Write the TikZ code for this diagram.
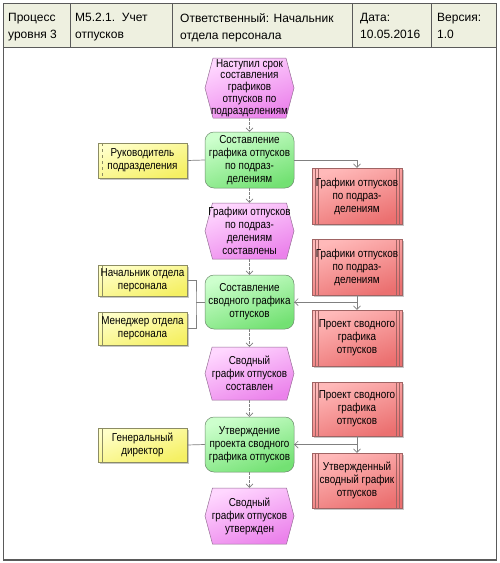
\documentclass[tikz,border=0pt]{standalone}
\usepackage{fontspec}
\setmainfont{Liberation Sans}
\newfontfamily\dfont[FakeStretch=0.86]{Liberation Sans}
\usetikzlibrary{shapes.symbols,arrows.meta,shadows,calc}
\definecolor{hdr}{RGB}{238,240,224}
\definecolor{framec}{RGB}{90,90,90}
\definecolor{connc}{RGB}{128,128,128}
\definecolor{evl}{RGB}{255,215,255}
\definecolor{evd}{RGB}{235,130,235}
\definecolor{evb}{RGB}{150,110,150}
\definecolor{fnl}{RGB}{205,255,205}
\definecolor{fnd}{RGB}{115,225,115}
\definecolor{fnb}{RGB}{110,140,110}
\definecolor{rol}{RGB}{255,255,200}
\definecolor{rod}{RGB}{245,240,100}
\definecolor{rob}{RGB}{140,140,100}
\definecolor{dcl}{RGB}{255,185,185}
\definecolor{dcd}{RGB}{235,112,112}
\definecolor{dcb}{RGB}{160,100,100}
\tikzset{
  hdrtxt/.style={anchor=north west, align=left, inner sep=0pt, font=\fontsize{12}{17}\selectfont},
  dfnt/.style={font=\dfont\fontsize{11.5}{13}\selectfont},
  dtxt/.style={align=center, inner sep=0pt, dfnt},
  shad/.style={drop shadow={shadow xshift=1.5pt, shadow yshift=-1.5pt, fill=black!22, opacity=1}},
  ev/.style={signal, signal to=east and west, signal pointer angle=150, inner sep=0pt,
    minimum width=89pt, draw=evb, line width=0.5pt, top color=evl, bottom color=evd, shading angle=20},
  fn/.style={rectangle, rounded corners=9pt, inner sep=0pt, minimum width=89pt,
    draw=fnb, line width=0.5pt, top color=fnl, bottom color=fnd, shading angle=20,
    align=center, dfnt},
  rolebox/.style={rectangle, inner sep=0pt, minimum width=89pt, draw=rob, line width=0.5pt,
    top color=rol, bottom color=rod, shading angle=20, shad,
    align=center, dfnt},
  rline/.style={path picture={\draw[rob, line width=0.5pt, #1]
    ([xshift=4.5pt]path picture bounding box.north west) -- ([xshift=4.5pt]path picture bounding box.south west);}},
  docbox/.style={rectangle, inner sep=0pt, minimum width=90pt, draw=dcb, line width=0.5pt,
    top color=dcl, bottom color=dcd, shading angle=20, shad,
    align=center, dfnt,
    path picture={\foreach \d in {3,6}{
      \draw[dcb, line width=0.5pt] ([xshift=\d pt]path picture bounding box.north west) -- ([xshift=\d pt]path picture bounding box.south west);
      \draw[dcb, line width=0.5pt] ([xshift=-\d pt]path picture bounding box.north east) -- ([xshift=-\d pt]path picture bounding box.south east);}}},
  conn/.style={draw=connc, line width=0.7pt},
  arr/.style={conn, -{Straight Barb[length=3.5pt, width=7pt]}},
  flow/.style={arr, dash pattern=on 2.5pt off 1.5pt}
}
\begin{document}
\begin{tikzpicture}[x=1pt,y=-1pt]
\useasboundingbox (0,0) rectangle (499,563);
\fill[white] (0,0) rectangle (499,563);
% header
\fill[hdr] (3,3) rectangle (496,47);
\draw[framec, line width=1pt] (3,3) rectangle (496,560);
\draw[framec, line width=1.8pt] (3,560) -- (496,560);
\draw[framec, line width=1pt] (3,47) -- (496,47);
\foreach \xx in {70,172,352,431} \draw[framec, line width=1pt] (\xx,3) -- (\xx,47);
\node[hdrtxt] (h1) at (8,13) {Процесс\\уровня 3};
\node[hdrtxt] (h2) at (75,13) {M5.2.1.\ \ Учет\\отпусков};
\node[hdrtxt] (h3) at (180,13) {Ответственный: Начальник\\отдела персонала};
\node[hdrtxt] (h4) at (360,13) {Дата:\\10.05.2016};
\node[hdrtxt] (h5) at (437,13) {Версия:\\1.0};
% events
\node[ev, minimum height=60pt] (e1) at (249.5,88) {};
\node[dtxt, font=\dfont\fontsize{11.5}{11.8}\selectfont] (t1) at (e1) {Наступил срок\\составления\\графиков\\отпусков по\\подразделениям};
\node[ev, minimum height=56pt] (e2) at (249.5,231) {};
\node[dtxt] (t2) at (e2) {Графики отпусков\\по подраз-\\делениям\\составлены};
\node[ev, minimum height=53pt] (e3) at (249.5,373.5) {};
\node[dtxt] (t3) at (e3) {Сводный\\график отпусков\\составлен};
\node[ev, minimum height=56pt] (e4) at (249.5,516) {};
\node[dtxt] (t4) at (e4) {Сводный\\график отпусков\\утвержден};
% functions
\node[fn, minimum height=56pt] (f1) at (249.5,160) {Составление\\графика отпусков\\по подраз-\\делениям};
\node[fn, minimum height=54pt] (f2) at (249.5,302) {Составление\\сводного графика\\отпусков};
\node[fn, minimum height=55pt] (f3) at (249.5,444.5) {Утверждение\\проекта сводного\\графика отпусков};
% roles
\node[rolebox, rline=dashed, minimum height=35pt] (r1) at (142.5,160.5) {Руководитель\\подразделения};
\node[rolebox, rline=solid, minimum height=31pt] (r2) at (142.5,280.5) {Начальник отдела\\персонала};
\node[rolebox, rline=solid, minimum height=33pt] (r3) at (142.5,328.5) {Менеджер отдела\\персонала};
\node[rolebox, rline=solid, minimum height=34pt] (r4) at (142.5,445) {Генеральный\\директор};
% documents
\node[docbox, minimum height=56pt] (d1) at (357,196) {Графики отпусков\\по подраз-\\делениям};
\node[docbox, minimum height=56pt] (d2) at (357,267) {Графики отпусков\\по подраз-\\делениям};
\node[docbox, minimum height=56pt] (d3) at (357,338) {Проект сводного\\графика\\отпусков};
\node[docbox, minimum height=54pt] (d4) at (357,409) {Проект сводного\\графика\\отпусков};
\node[docbox, minimum height=55pt] (d5) at (357,480.5) {Утвержденный\\сводный график\\отпусков};
% junction coordinates
\coordinate (j1) at (196,302);
% process flow
\draw[flow] (e1.south) -- (f1.north);
\draw[flow] (f1.south) -- (e2.north);
\draw[flow] (e2.south) -- (f2.north);
\draw[flow] (f2.south) -- (e3.north);
\draw[flow] (e3.south) -- (f3.north);
\draw[flow] (f3.south) -- (e4.north);
% roles
\draw[conn] (r1.east) -- (f1.west);
\draw[conn] (r2.east) -| (j1) |- (r3.east);
\draw[conn] (j1) -- (f2.west);
\draw[conn] (r4.east) -- (f3.west);
% documents
\draw[arr] (f1.east) -| (d1.north);
\draw[arr] (d2.south) |- (f2.east);
\draw[arr] (f2.east) -| (d3.north);
\draw[arr] (d4.south) |- (f3.east);
\draw[arr] (f3.east) -| (d5.north);
\end{tikzpicture}
\end{document}
